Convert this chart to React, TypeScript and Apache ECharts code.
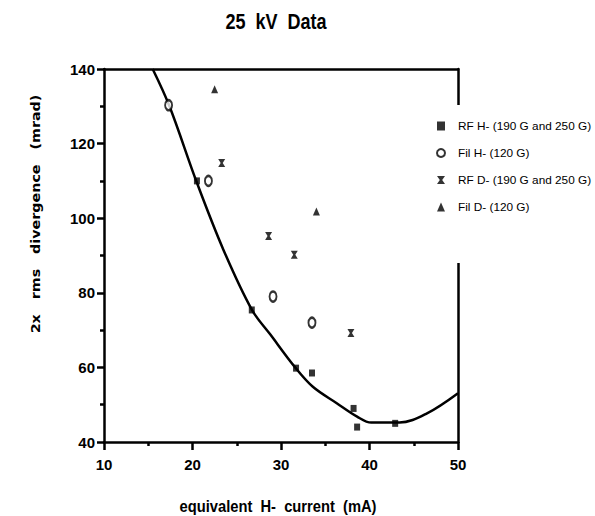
import React, { useEffect, useRef } from "react";
import * as echarts from "echarts";

const rfH: [number, number][] = [
  [20.5, 110], [26.7, 75.4], [31.7, 59.8], [33.5, 58.5], [38.2, 49], [38.6, 44], [42.9, 45],
];
const filH: [number, number][] = [
  [17.3, 130.3], [21.8, 110], [29.1, 79], [33.5, 72],
];
const rfD: [number, number][] = [
  [23.3, 114.8], [28.6, 95.2], [31.5, 90.2], [37.9, 69.2],
];
const filD: [number, number][] = [
  [22.5, 134.6], [34, 101.8],
];
const fitCurve: [number, number][] = [
  [15.5, 140], [17.4, 130], [20.5, 109.5], [23.5, 91.5], [26.7, 75.5],
  [28.8, 68.8], [31.6, 60], [33.6, 54.8], [36.3, 50.4], [38.6, 46.8], [40.2, 45.2],
  [43.4, 45.2], [46.5, 47.7], [50, 53.1],
];
const seriesNames = [
  "RF H- (190 G and 250 G)",
  "Fil H- (120 G)",
  "RF D- (190 G and 250 G)",
  "Fil D- (120 G)",
];
const title = "25  kV  Data";
const xTitle = "equivalent  H-  current  (mA)";
const yTitle = "2x   rms   divergence   (mrad)";

const SANS = '"Liberation Sans", Arial, sans-serif';
const BOWTIE = "path://M0,0 L10,0 L6.5,5 L10,10 L0,10 L3.5,5 Z";

export default function App() {
  const ref = useRef<HTMLDivElement>(null);
  useEffect(() => {
    const chart = echarts.init(ref.current!, undefined, { renderer: "svg" });
    const axisLine = { show: true, lineStyle: { color: "#000", width: 2.5 } };
    chart.setOption({
      animation: false,
      backgroundColor: "#fff",
      grid: { left: 104, right: 137, top: 69, bottom: 74 },
      xAxis: [
        {
          type: "value", min: 10, max: 50, interval: 10, position: "bottom",
          axisLine,
          axisTick: { show: true, length: 8, lineStyle: { width: 2.5, color: "#000" } },
          minorTick: { show: true, splitNumber: 2, length: 4, lineStyle: { width: 2.5, color: "#000" } },
          splitLine: { show: false },
          axisLabel: { color: "#000", fontSize: 15, fontWeight: "bold", fontFamily: SANS, margin: 15 },
        },
        {
          type: "value", min: 10, max: 50, position: "top",
          axisLine, axisTick: { show: false }, axisLabel: { show: false }, splitLine: { show: false },
        },
      ],
      yAxis: [
        {
          type: "value", min: 40, max: 140, interval: 20, position: "left",
          axisLine,
          axisTick: { show: true, length: 7, lineStyle: { width: 2.5, color: "#000" } },
          minorTick: { show: true, splitNumber: 2, length: 4, lineStyle: { width: 2.5, color: "#000" } },
          splitLine: { show: false },
          axisLabel: { color: "#000", fontSize: 15, fontWeight: "bold", fontFamily: SANS, margin: 9 },
        },
        {
          type: "value", min: 40, max: 140, position: "right",
          axisLine, axisTick: { show: false }, axisLabel: { show: false }, splitLine: { show: false },
        },
      ],
      legend: {
        data: seriesNames,
        orient: "vertical",
        left: 436,
        top: 105,
        itemWidth: 8,
        itemHeight: 9,
        itemGap: 15,
        padding: [15, 0, 50, 0],
        backgroundColor: "#fff",
        z: 10,
        textStyle: { color: "#000", fontSize: 11.8, fontFamily: SANS, padding: [0, 0, 0, 8] },
      },
      graphic: [
        {
          type: "text", x: 276, y: 21, z: 20, scaleX: 0.82,
          style: { text: title, fontSize: 22, fontWeight: "bold", fontFamily: SANS, fill: "#000", align: "center", verticalAlign: "middle" },
        },
        {
          type: "text", x: 278, y: 506, z: 20, scaleX: 0.92,
          style: { text: xTitle, fontSize: 16, fontWeight: "bold", fontFamily: SANS, fill: "#000", align: "center", verticalAlign: "middle" },
        },
        {
          type: "text", x: 35, y: 214, rotation: Math.PI / 2, z: 20, scaleX: 1.1,
          style: { text: yTitle, fontSize: 13, fontWeight: "bold", fontFamily: '"DejaVu Sans", sans-serif', fill: "#000", align: "center", verticalAlign: "middle" },
        },
      ],
      series: [
        {
          name: "fit", type: "line", data: fitCurve, smooth: 0.35, showSymbol: false,
          lineStyle: { color: "#000", width: 2.5 }, silent: true, z: 1,
        },
        {
          name: seriesNames[0], type: "scatter", data: rfH, symbol: "rect", symbolSize: [6, 7],
          itemStyle: { color: "#000" }, z: 3,
        },
        {
          name: seriesNames[1], type: "scatter", data: filH, symbol: "circle", symbolSize: [7, 10],
          itemStyle: { color: "#fff", borderColor: "#000", borderWidth: 2.2 }, z: 3,
        },
        {
          name: seriesNames[2], type: "scatter", data: rfD, symbol: BOWTIE, symbolSize: [7, 8],
          itemStyle: { color: "#000" }, z: 3,
        },
        {
          name: seriesNames[3], type: "scatter", data: filD, symbol: "triangle", symbolSize: [7, 8],
          itemStyle: { color: "#000" }, z: 3,
        },
      ],
    });
    return () => chart.dispose();
  }, []);
  return <div ref={ref} style={{ position: "absolute", left: 0, top: 0, width: 595, height: 516 }} />;
}
